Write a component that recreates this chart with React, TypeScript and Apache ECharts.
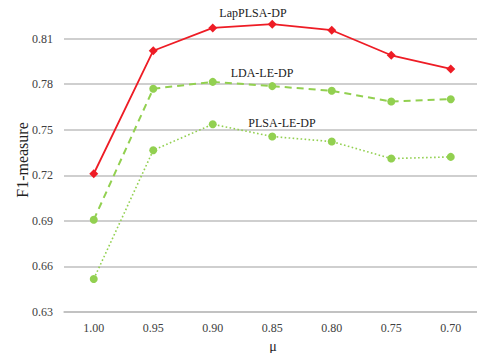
import React, { useEffect, useRef } from "react";
import * as echarts from "echarts";

const categories = ["1.00", "0.95", "0.90", "0.85", "0.80", "0.75", "0.70"];
const lapPLSA = [0.721, 0.802, 0.817, 0.8195, 0.8155, 0.799, 0.790];
const ldaLE = [0.6907, 0.777, 0.7815, 0.7787, 0.7756, 0.7686, 0.7701];
const plsaLE = [0.6517, 0.7365, 0.7536, 0.7455, 0.7422, 0.731, 0.7321];
const seriesNames = ["LapPLSA-DP", "LDA-LE-DP", "PLSA-LE-DP"];

const FONT = "Liberation Serif";
const RED = "#ee1c25";
const GREEN = "#92d050";

const txt = (text: string, x: number, y: number, size: number, rotation = 0) => ({
  type: "text",
  x,
  y,
  rotation,
  style: {
    text,
    fontFamily: FONT,
    fontSize: size,
    fill: "#222",
    align: "center",
    verticalAlign: "middle",
  },
});

export default function App() {
  const ref = useRef<HTMLDivElement>(null);
  useEffect(() => {
    if (!ref.current) return;
    const chart = echarts.init(ref.current, null, { renderer: "svg" });
    chart.setOption({
      animation: false,
      backgroundColor: "#ffffff",
      textStyle: { fontFamily: FONT },
      grid: {
        left: 64,
        top: -7,
        width: 416.5,
        height: 319,
        containLabel: false,
        outerBoundsMode: "none",
      },
      xAxis: {
        type: "category",
        data: categories,
        boundaryGap: true,
        axisLine: { show: true, lineStyle: { color: "#bfbfbf", width: 1.5 } },
        axisTick: { show: false },
        axisLabel: { color: "#404040", fontFamily: FONT, fontSize: 12, margin: 10 },
      },
      yAxis: {
        type: "value",
        min: 0.63,
        max: 0.84,
        interval: 0.03,
        axisLine: { show: false },
        axisTick: { show: false },
        splitLine: { show: true, lineStyle: { color: "#bfbfbf", width: 1.5 } },
        axisLabel: {
          color: "#404040",
          fontFamily: FONT,
          fontSize: 12,
          margin: 11,
          showMaxLabel: false,
          formatter: (v: number) => v.toFixed(2),
        },
      },
      series: [
        {
          name: seriesNames[0],
          type: "line",
          data: lapPLSA,
          symbol: "diamond",
          symbolSize: 9,
          lineStyle: { color: RED, width: 1.8 },
          itemStyle: { color: RED },
        },
        {
          name: seriesNames[1],
          type: "line",
          data: ldaLE,
          symbol: "circle",
          symbolSize: 8,
          lineStyle: { color: GREEN, width: 2, type: [7, 5] },
          itemStyle: { color: GREEN },
        },
        {
          name: seriesNames[2],
          type: "line",
          data: plsaLE,
          symbol: "circle",
          symbolSize: 8,
          lineStyle: { color: GREEN, width: 1.6, type: [1.6, 2.4] },
          itemStyle: { color: GREEN },
        },
      ],
      graphic: [
        txt(seriesNames[0], 253, 13, 12),
        txt(seriesNames[1], 262, 73, 12),
        txt(seriesNames[2], 282, 123, 12),
        txt("F1-measure", 22, 160, 16, Math.PI / 2),
        txt("μ", 273, 346, 14),
      ],
    });
    return () => chart.dispose();
  }, []);
  return <div ref={ref} style={{ width: 477, height: 353, position: "absolute", left: 0, top: 0 }} />;
}
